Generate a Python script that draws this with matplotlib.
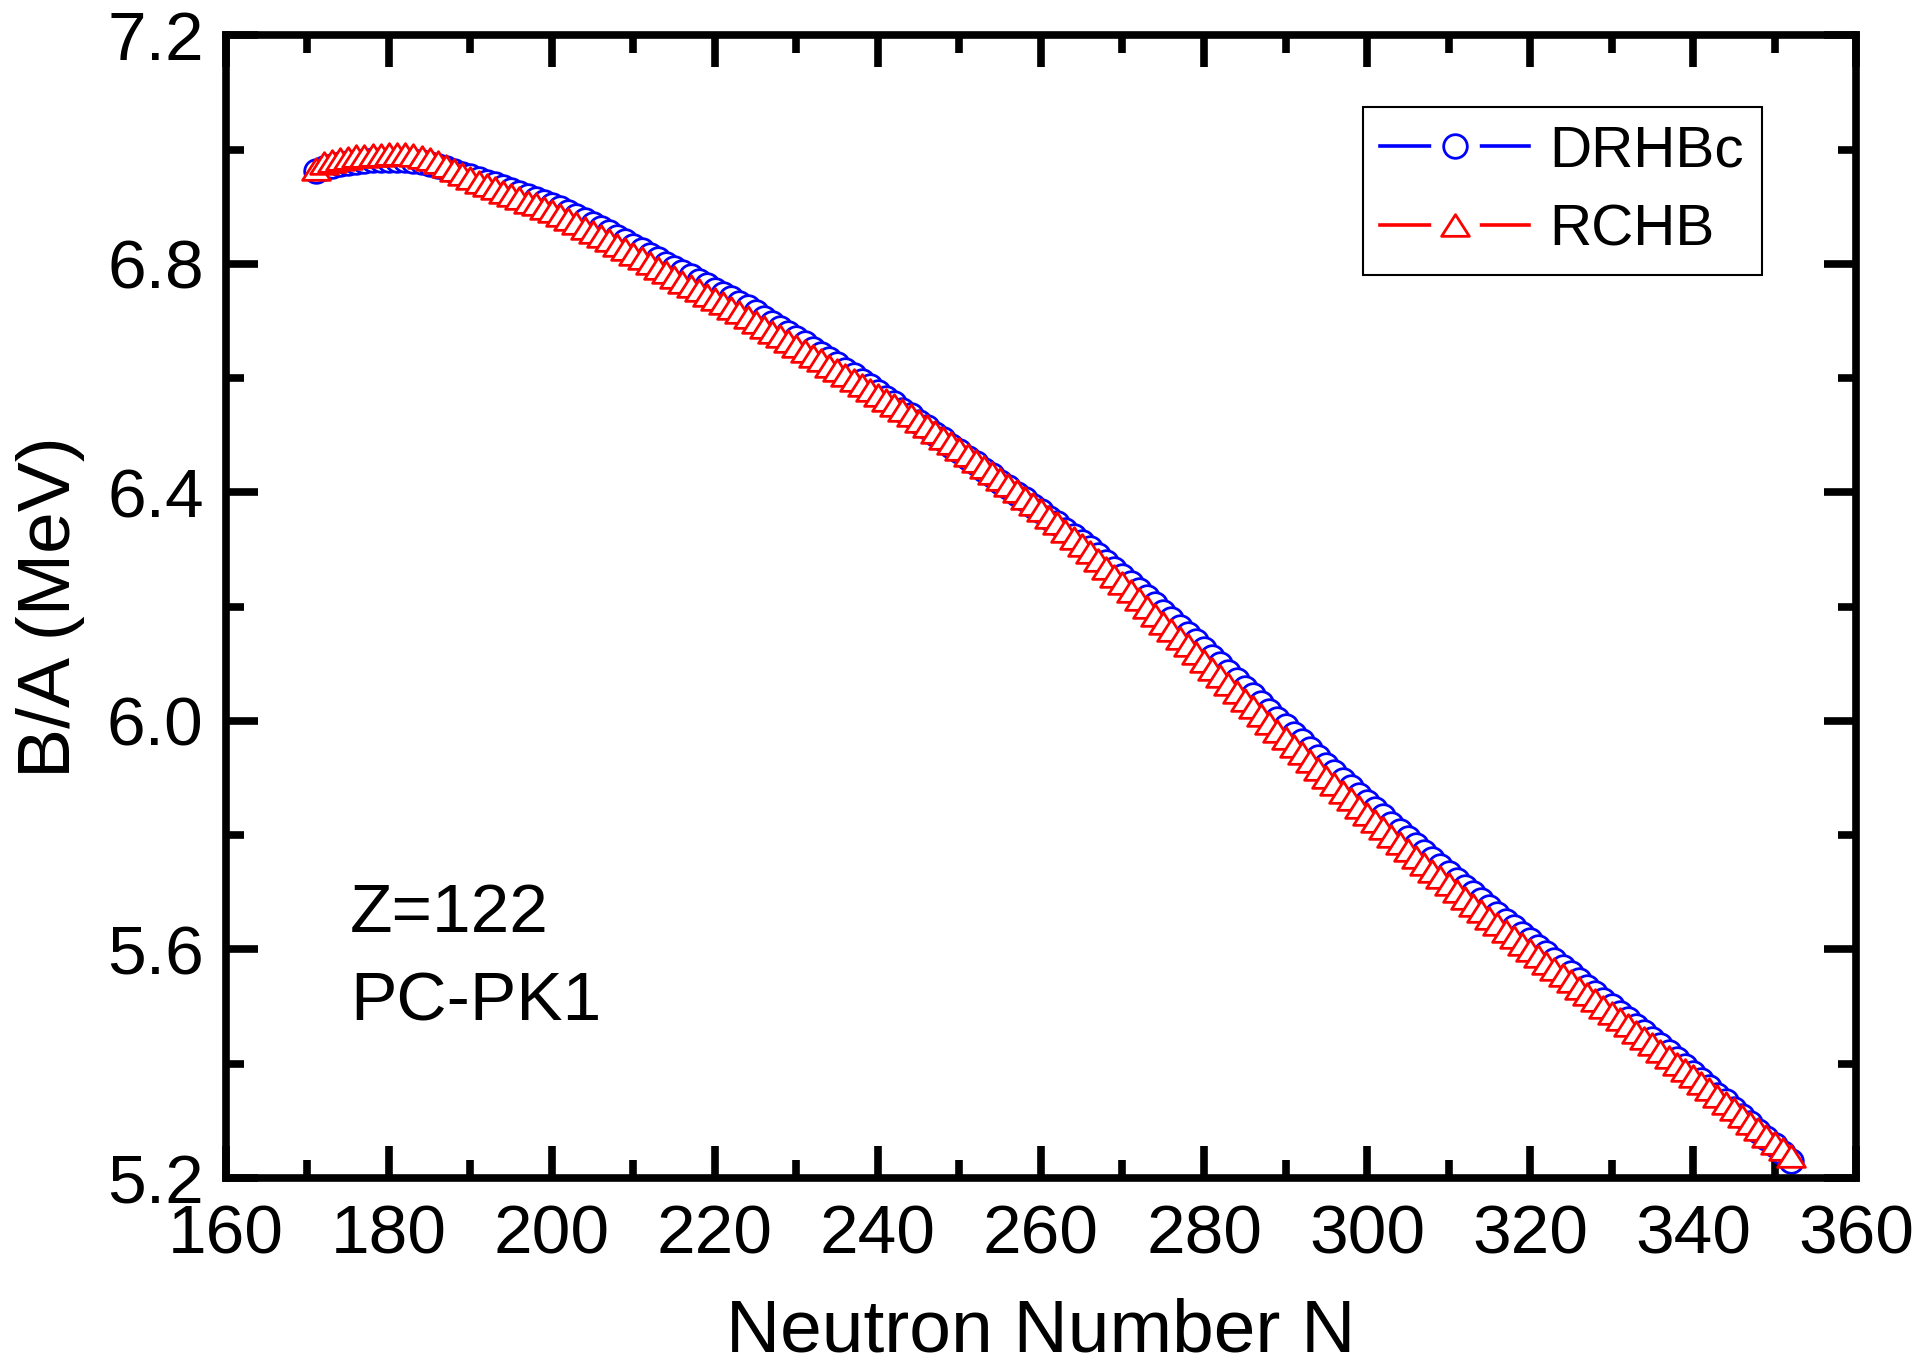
import matplotlib
matplotlib.use("Agg")
import matplotlib.pyplot as plt
from matplotlib.path import Path
from matplotlib.lines import Line2D
from matplotlib.legend_handler import HandlerTuple
from matplotlib.ticker import MultipleLocator, FormatStrFormatter

plt.rcParams['font.family'] = ['Liberation Sans', 'DejaVu Sans']

# neutron numbers, Z=122 chain
N = list(range(171, 353))

# binding energy per nucleon (MeV), DRHBc
ba_drhbc = [
    6.962, 6.968, 6.972, 6.975, 6.977, 6.979, 6.980, 6.981, 6.982, 6.982,
    6.982, 6.981, 6.980, 6.978, 6.975, 6.972, 6.968, 6.963, 6.958, 6.953,
    6.949, 6.944, 6.939, 6.934, 6.929, 6.924, 6.919, 6.914, 6.909, 6.903,
    6.897, 6.890, 6.883, 6.876, 6.869, 6.862, 6.855, 6.847, 6.840, 6.832,
    6.824, 6.816, 6.808, 6.800, 6.793, 6.785, 6.778, 6.770, 6.763, 6.755,
    6.748, 6.740, 6.732, 6.724, 6.715, 6.706, 6.697, 6.688, 6.679, 6.670,
    6.661, 6.651, 6.642, 6.633, 6.624, 6.614, 6.605, 6.595, 6.586, 6.576,
    6.566, 6.556, 6.545, 6.535, 6.524, 6.514, 6.503, 6.493, 6.482, 6.472,
    6.461, 6.451, 6.440, 6.430, 6.419, 6.409, 6.398, 6.388, 6.377, 6.367,
    6.356, 6.346, 6.335, 6.324, 6.313, 6.302, 6.290, 6.278, 6.266, 6.254,
    6.242, 6.229, 6.217, 6.204, 6.191, 6.178, 6.165, 6.152, 6.139, 6.126,
    6.112, 6.099, 6.085, 6.072, 6.058, 6.045, 6.031, 6.018, 6.004, 5.991,
    5.977, 5.964, 5.950, 5.937, 5.923, 5.910, 5.897, 5.884, 5.871, 5.858,
    5.845, 5.833, 5.820, 5.808, 5.795, 5.783, 5.770, 5.758, 5.746, 5.734,
    5.722, 5.710, 5.698, 5.686, 5.674, 5.662, 5.650, 5.639, 5.627, 5.616,
    5.604, 5.593, 5.581, 5.570, 5.558, 5.547, 5.535, 5.524, 5.512, 5.501,
    5.489, 5.478, 5.466, 5.455, 5.443, 5.432, 5.420, 5.408, 5.396, 5.384,
    5.371, 5.359, 5.346, 5.334, 5.321, 5.309, 5.296, 5.283, 5.270, 5.257,
    5.243, 5.230,
]

# binding energy per nucleon (MeV), RCHB
ba_rchb = [
    6.966, 6.976, 6.980, 6.984, 6.986, 6.988, 6.989, 6.990, 6.991, 6.992,
    6.992, 6.992, 6.990, 6.987, 6.983, 6.978, 6.972, 6.965, 6.958, 6.950,
    6.944, 6.938, 6.932, 6.926, 6.920, 6.915, 6.909, 6.904, 6.898, 6.892,
    6.885, 6.878, 6.871, 6.863, 6.856, 6.849, 6.841, 6.833, 6.826, 6.818,
    6.810, 6.801, 6.793, 6.785, 6.777, 6.769, 6.762, 6.754, 6.746, 6.738,
    6.731, 6.723, 6.715, 6.707, 6.698, 6.690, 6.681, 6.673, 6.665, 6.656,
    6.648, 6.639, 6.631, 6.622, 6.614, 6.605, 6.597, 6.588, 6.580, 6.571,
    6.562, 6.553, 6.544, 6.535, 6.525, 6.516, 6.506, 6.496, 6.486, 6.476,
    6.465, 6.455, 6.444, 6.434, 6.423, 6.413, 6.402, 6.391, 6.380, 6.369,
    6.357, 6.346, 6.333, 6.321, 6.308, 6.295, 6.281, 6.268, 6.254, 6.241,
    6.227, 6.213, 6.199, 6.186, 6.172, 6.159, 6.145, 6.132, 6.118, 6.105,
    6.091, 6.078, 6.064, 6.051, 6.037, 6.024, 6.010, 5.997, 5.983, 5.970,
    5.956, 5.943, 5.929, 5.916, 5.902, 5.889, 5.876, 5.863, 5.850, 5.837,
    5.824, 5.812, 5.799, 5.787, 5.774, 5.762, 5.750, 5.738, 5.726, 5.714,
    5.702, 5.690, 5.678, 5.667, 5.655, 5.644, 5.632, 5.621, 5.610, 5.599,
    5.588, 5.577, 5.566, 5.555, 5.544, 5.533, 5.522, 5.511, 5.500, 5.489,
    5.478, 5.467, 5.456, 5.445, 5.434, 5.423, 5.412, 5.400, 5.389, 5.378,
    5.366, 5.355, 5.343, 5.332, 5.320, 5.309, 5.297, 5.286, 5.274, 5.262,
    5.251, 5.239,
]

# flat, Origin-like open triangle
tri = Path([(-1, -0.78), (1, -0.78), (0, 0.78), (-1, -0.78)], closed=True)

fig = plt.figure(figsize=(19.18, 13.66), dpi=100)
ax = fig.add_axes([0.1178, 0.1376, 0.8499, 0.8366])

ax.plot(N, ba_drhbc, color='blue', lw=1.8, marker='o', ms=17,
        mfc='white', mec='blue', mew=2.0)
ax.plot(N, ba_rchb, color='red', lw=1.8, marker=tri, ms=20,
        mfc='white', mec='red', mew=2.0)

ax.set_xlim(160, 360)
ax.set_ylim(5.2, 7.2)
ax.xaxis.set_major_locator(MultipleLocator(20))
ax.xaxis.set_minor_locator(MultipleLocator(10))
ax.yaxis.set_major_locator(MultipleLocator(0.4))
ax.yaxis.set_minor_locator(MultipleLocator(0.2))
ax.yaxis.set_major_formatter(FormatStrFormatter('%.1f'))

for s in ax.spines.values():
    s.set_linewidth(5.5)
ax.tick_params(which='both', direction='in', top=True, right=True, width=5.5)
ax.tick_params(which='major', length=23, labelsize=50)
ax.tick_params(which='minor', length=13)
ax.tick_params(axis='x', which='major', pad=18)
ax.tick_params(axis='y', which='major', pad=16)

ax.set_xlabel('Neutron Number N', fontsize=54, labelpad=22)
ax.set_ylabel('B/A (MeV)', fontsize=54, labelpad=16)

ax.text(0.076, 0.2155, 'Z=122', transform=ax.transAxes, fontsize=50,
        va='baseline', ha='left')
ax.text(0.076, 0.1382, 'PC-PK1', transform=ax.transAxes, fontsize=50,
        va='baseline', ha='left')

# legend keys: line broken around the symbol, as in Origin
def key(color, mk, size):
    seg = Line2D([], [], color=color, lw=2.6)
    gap = Line2D([], [], ls='none', marker='o', ms=34, mfc='white', mec='white')
    sym = Line2D([], [], ls='none', marker=mk, ms=size, mfc='white',
                 mec=color, mew=2.0)
    return (seg, gap, sym)

leg = ax.legend([key('blue', 'o', 17), key('red', tri, 20)], ['DRHBc', 'RCHB'],
                handler_map={tuple: HandlerTuple(ndivide=1, pad=0)},
                loc='upper right', bbox_to_anchor=(0.942, 0.937),
                borderaxespad=0, fontsize=42, handlelength=2.55,
                handletextpad=0.35, labelspacing=0.42, borderpad=0.3,
                fancybox=False, framealpha=1, edgecolor='black')
leg.get_frame().set_linewidth(1.5)

fig.savefig('out.png', dpi=100)
